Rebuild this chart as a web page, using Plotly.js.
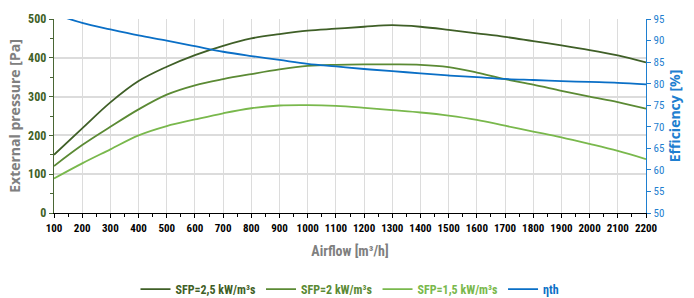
<!DOCTYPE html>
<html><head><meta charset="utf-8">
<script src="https://cdn.plot.ly/plotly-3.0.1.min.js"></script>
<style>html,body{margin:0;padding:0;background:#fff}#c{width:694px;height:298px}</style>
</head><body><div id="c"></div>
<script>
var airflow = [100,200,300,400,500,600,700,800,900,1000,1100,1200,1300,1400,1500,1600,1700,1800,1900,2000,2100,2200];
var sfp25 = [150,218,285,340,377,407,431,450,461,470,475,480,484,480,472,463,454,443,432,420,406,388];
var sfp20 = [121,175,222,267,305,329,345,358,370,379,382,383,383,382,376,362,345,331,315,300,286,269];
var sfp15 = [89,128,164,200,224,241,257,270,277,278,276,271,265,259,251,240,225,210,195,178,160,139];
var eff = [96.2,94.1,92.6,91.2,90.0,88.7,87.4,86.4,85.5,84.6,84.0,83.4,82.9,82.4,81.9,81.5,81.1,80.85,80.6,80.4,80.2,79.85];
var names = ['SFP=2,5 kW/m³s','SFP=2 kW/m³s','SFP=1,5 kW/m³s','\u03B7th'];
var colors = ['#3f5f27','#5b8a34','#79b84c','#0a6fc6'];
var xTicks = airflow;

var font = '"Liberation Sans Narrow", "Roboto Condensed", "Liberation Sans", sans-serif';
var wide = '"Open Sans", "Noto Sans", sans-serif';
function tr(y, i, axis){
  return {x: airflow, y: y, type:'scatter', mode:'lines', yaxis: axis,
    name: '<span style="color:'+colors[i]+'">'+names[i]+'</span>',
    line:{color: colors[i], width: 1.8, shape:'spline', smoothing:1}};
}
var data = [tr(sfp25,0,'y'), tr(sfp20,1,'y'), tr(sfp15,2,'y'), tr(eff,3,'y2')];
var layout = {
  width:694, height:298,
  margin:{l:53.5, r:47.5, t:19, b:85},
  paper_bgcolor:'#fff', plot_bgcolor:'#fff',
  font:{family:font, size:11},
  showlegend:true,
  legend:{orientation:'h', x:0.5, xanchor:'center', yref:'container', y:0.03, yanchor:'middle',
    font:{family:font, size:12, color:'#3f5f27', weight:'bold'}, itemwidth:30, tracegroupgap:0},
  xaxis:{range:[100,2200], tickmode:'array', tickvals:xTicks, ticktext:xTicks.map(String),
    showgrid:true, gridcolor:'#dcdcdc', gridwidth:1,
    showline:true, linecolor:'#000', linewidth:1.3, ticks:'outside', ticklen:4, tickcolor:'#000',
    minor:{dtick:50, ticks:'outside', ticklen:3, tickcolor:'#000', showgrid:false},
    tickfont:{family:font, size:11, color:'#000', weight:'bold'},
    title:{text:'Airflow [m³/h]', font:{family:font, size:14, color:'#7f7f7f', weight:'bold'}, standoff:12},
    zeroline:false, fixedrange:true},
  yaxis:{range:[0,500], dtick:100, showgrid:true, gridcolor:'#dcdcdc', gridwidth:2,
    showline:true, linecolor:'#4a6635', linewidth:1.3, ticks:'outside', ticklen:4, tickcolor:'#4a6635',
    minor:{dtick:50, ticks:'outside', ticklen:3, tickcolor:'#4a6635', showgrid:false},
    tickfont:{family:font, size:12, color:'#3f5f27', weight:'bold'},
    title:{text:'External pressure [Pa]', font:{family:wide, size:14, color:'#808080', weight:'bold'}, standoff:4},
    zeroline:false, fixedrange:true},
  yaxis2:{range:[50,95], dtick:5, overlaying:'y', side:'right', showgrid:false,
    showline:true, linecolor:'#1f7fd0', linewidth:1.3, ticks:'outside', ticklen:4, tickcolor:'#1f7fd0',
    tickfont:{family:font, size:11, color:'#1f7fd0'},
    title:{text:'Efficiency [%]', font:{family:wide, size:14, color:'#1f7fd0', weight:'bold'}, standoff:6},
    zeroline:false, fixedrange:true}
};
Plotly.newPlot('c', data, layout, {displayModeBar:false, staticPlot:true});
</script></body></html>
